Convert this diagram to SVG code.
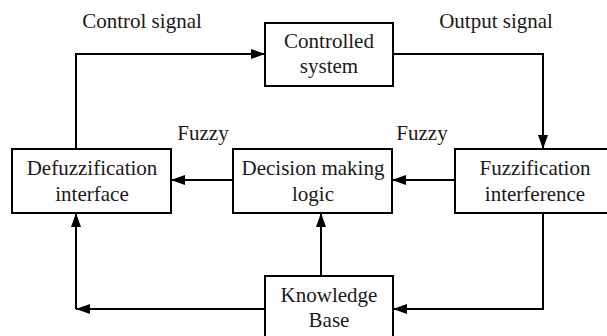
<svg xmlns="http://www.w3.org/2000/svg" width="607" height="336" viewBox="0 0 607 336">
<style>
.box{fill:#fff;stroke:#000;stroke-width:2}
.lbl{font-family:"Liberation Serif","Times New Roman",serif;font-size:21px;fill:#1a1a1a;text-anchor:middle}
.edge{fill:none;stroke:#000;stroke-width:2}
</style>
<defs>
<marker id="ah" markerUnits="userSpaceOnUse" markerWidth="16" markerHeight="12" refX="14" refY="5" orient="auto">
<path d="M0,0 L14,5 L0,10 z" fill="#000"/>
</marker>
</defs>
<rect width="607" height="336" fill="#fff"/>
<g id="connectors">
<path class="edge" d="M76,149 V54 H265" marker-end="url(#ah)"/>
<path class="edge" d="M393,54 H543 V149" marker-end="url(#ah)"/>
<path class="edge" d="M455,180 H392" marker-end="url(#ah)"/>
<path class="edge" d="M233,180 H171" marker-end="url(#ah)"/>
<path class="edge" d="M321,276 V213" marker-end="url(#ah)"/>
<path class="edge" d="M543,213 V309 H393" marker-end="url(#ah)"/>
<path class="edge" d="M265,309 H76" marker-end="url(#ah)"/>
<path class="edge" d="M76,309 V213" marker-end="url(#ah)"/>
</g>
<g id="labels">
<text class="lbl" x="142" y="28">Control signal</text>
<text class="lbl" x="496" y="28">Output signal</text>
<text class="lbl" x="203" y="140">Fuzzy</text>
<text class="lbl" x="422" y="140">Fuzzy</text>
</g>
<g id="controlled">
<rect class="box" x="265" y="23" width="128" height="63"/>
<text class="lbl" x="329" y="48">Controlled</text>
<text class="lbl" x="329" y="73">system</text>
</g>
<g id="defuzz">
<rect class="box" x="12" y="149" width="159" height="64"/>
<text class="lbl" x="92" y="175">Defuzzification</text>
<text class="lbl" x="92" y="201">interface</text>
</g>
<g id="decision">
<rect class="box" x="233" y="149" width="159" height="64"/>
<text class="lbl" x="313" y="175">Decision making</text>
<text class="lbl" x="313" y="201">logic</text>
</g>
<g id="fuzzification">
<rect class="box" x="455" y="149" width="160" height="64"/>
<text class="lbl" x="535" y="175">Fuzzification</text>
<text class="lbl" x="535" y="201">interference</text>
</g>
<g id="knowledge">
<rect class="box" x="265" y="276" width="128" height="70"/>
<text class="lbl" x="329" y="302">Knowledge</text>
<text class="lbl" x="329" y="327">Base</text>
</g>
</svg>
